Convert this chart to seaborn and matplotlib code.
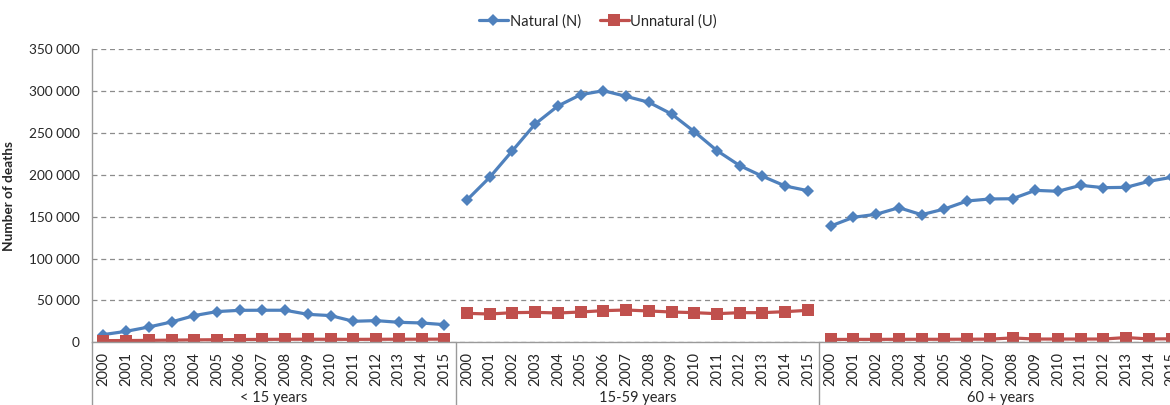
import numpy as np
import pandas as pd
import seaborn as sns
import matplotlib.pyplot as plt
import matplotlib.transforms as mtransforms
from matplotlib.lines import Line2D
from matplotlib.ticker import FuncFormatter

# --- data ---
years = list(range(2000, 2016))
age_groups = ["< 15 years", "15-59 years", "60 + years"]

natural_u15 = [9200, 13100, 18300, 24300, 31900, 36700, 38200, 38300,
               38300, 33400, 31900, 25100, 25900, 23900, 23100, 21100]
natural_15_59 = [170000, 197100, 228900, 260800, 282300, 295800, 300500, 293800,
                 286700, 272700, 251600, 228900, 211000, 198300, 186700, 181100]
natural_60p = [138900, 149300, 152900, 160800, 152400, 159200, 168800, 171200,
               171500, 181500, 180400, 187500, 184700, 185100, 192300, 197100]

unnatural_u15 = [2000, 2100, 2300, 2600, 2900, 3100, 3300, 3500,
                 3600, 3700, 3600, 3500, 3600, 3700, 3700, 3800]
unnatural_15_59 = [34600, 33800, 35400, 35800, 35000, 36200, 37800, 38600,
                   37400, 36200, 35400, 34200, 35400, 35400, 36600, 38200]
unnatural_60p = [3400, 3500, 3500, 3600, 3600, 3600, 3700, 3800,
                 5200, 3900, 3900, 3900, 3900, 5700, 4000, 4200]

natural = [natural_u15, natural_15_59, natural_60p]
unnatural = [unnatural_u15, unnatural_15_59, unnatural_60p]

rows = []
for g, grp in enumerate(age_groups):
    for i, yr in enumerate(years):
        pos = g * len(years) + i
        rows.append({"pos": pos, "group": grp, "cause": "Natural (N)", "deaths": natural[g][i]})
        rows.append({"pos": pos, "group": grp, "cause": "Unnatural (U)", "deaths": unnatural[g][i]})
df = pd.DataFrame(rows)

blue = "#4F81BD"
red = "#C0504D"
palette = {"Natural (N)": blue, "Unnatural (U)": red}
markers = {"Natural (N)": "D", "Unnatural (U)": "s"}

sns.set_style("white")
plt.rcParams["font.family"] = ["Lato", "DejaVu Sans"]

fig = plt.figure(figsize=(11.7, 4.05), dpi=100)
ax = fig.add_axes([0.0786, 0.1548, 0.9325, 0.7235])

sns.lineplot(data=df, x="pos", y="deaths", hue="cause", style="cause",
             units="group", estimator=None, palette=palette, markers=markers,
             dashes=False, linewidth=2.3, markeredgewidth=0, legend=False, ax=ax)

for ln in ax.lines:
    if ln.get_marker() == "D":
        ln.set_markersize(5.8)
    elif ln.get_marker() == "s":
        ln.set_markersize(8.2)

n = len(age_groups) * len(years)
ax.set_xlim(-0.5, n - 0.5)
ax.set_ylim(0, 350000)
ax.set_yticks(np.arange(0, 350001, 50000))
ax.yaxis.set_major_formatter(FuncFormatter(lambda v, p: f"{int(v):,}".replace(",", " ")))
ax.grid(axis="y", linestyle=(0, (4, 3)), color="#8c8c8c", linewidth=0.9)
ax.set_axisbelow(True)

ax.set_xticks(range(n))
ax.set_xticklabels([str(y) for y in years] * len(age_groups), rotation=90,
                   fontsize=10.5, va="top", ha="center")
ax.tick_params(axis="x", length=0, pad=7)
ax.tick_params(axis="y", length=0, pad=9, labelsize=9.8)
ax.set_xlabel("")
ax.set_ylabel("Number of deaths", fontsize=9.8, fontweight="bold")
ax.yaxis.set_label_coords(-0.0706, 0.5)

for side in ["top", "right"]:
    ax.spines[side].set_visible(False)
for side in ["left", "bottom"]:
    ax.spines[side].set_color("#9a9a9a")
    ax.spines[side].set_linewidth(1)

# group separators and labels under the category axis
trans = mtransforms.blended_transform_factory(ax.transData, ax.transAxes)
for b in range(len(age_groups) + 1):
    xb = b * len(years) - 0.5
    ax.plot([xb, xb], [0, -0.22], transform=trans, color="#9a9a9a",
            linewidth=1, clip_on=False)
for g, grp in enumerate(age_groups):
    ax.text(g * len(years) + (len(years) - 1) / 2, -0.19, grp, transform=trans,
            ha="center", va="center", fontsize=10.5)

handles = [Line2D([], [], color=blue, marker="D", markersize=5.8, linewidth=2.3,
                  markeredgewidth=0),
           Line2D([], [], color=red, marker="s", markersize=8.2, linewidth=2.3,
                  markeredgewidth=0)]
fig.legend(handles, list(palette.keys()), loc="center", bbox_to_anchor=(0.511, 0.948),
           ncol=2, frameon=False, fontsize=10.5, handlelength=2.0,
           handletextpad=0.1, columnspacing=1.3)

fig.savefig("out.png", dpi=100)
